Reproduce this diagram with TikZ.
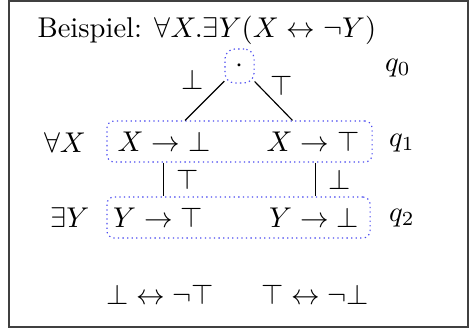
\documentclass[tikz,border=0pt]{standalone}
\usepackage{amssymb}
\usetikzlibrary{positioning}
\definecolor{qblue}{HTML}{4A4AF0}

\begin{document}
\begin{tikzpicture}[x=0.35pt,y=-0.35pt,
    levelbox/.style={draw=qblue,dash pattern=on 0.45pt off 1.15pt,rounded corners=2.5pt,minimum width=92.8pt,minimum height=14.35pt},
    entry/.style={minimum height=14.35pt,inner sep=1pt},
    plain/.style={inner sep=0pt}
  ]
    \useasboundingbox (0,0) rectangle (469,329);
    \draw[black!75] (9,1) rectangle (468,327);
    \node[plain,anchor=base west] (title) at (37,37.5) {Beispiel: $\forall X.\exists Y(X\leftrightarrow\neg Y)$};
    % Baumwurzel
    \node[levelbox,minimum width=10.2pt,minimum height=11.9pt,rounded corners=3.5pt] (root) at (239.5,66) {$\cdot$};
    \node[plain] (q0) at (398,68) {$q_0$};
    % erste Ebene
    \node[levelbox] (row1) at (239.5,141.5) {};
    \node[entry] (xb) at (164,141.5) {$X\rightarrow\bot$};
    \node[entry] (xt) at (313,141.5) {$X\rightarrow\top$};
    \node[plain] (qx) at (65,143) {$\forall X$};
    \node[plain] (q1) at (402,143) {$q_1$};
    % zweite Ebene
    \node[levelbox,minimum width=92.1pt] (row2) at (238.5,217.5) {};
    \node[entry] (yt) at (158,217.5) {$Y\rightarrow\top$};
    \node[entry] (yb) at (314,217.5) {$Y\rightarrow\bot$};
    \node[plain] (qy) at (70,218) {$\exists Y$};
    \node[plain] (q2) at (402,218) {$q_2$};
    % Ergebnisse
    \node[plain] (rb) at (160,295) {$\bot\leftrightarrow\neg\top$};
    \node[plain] (rt) at (315,295) {$\top\leftrightarrow\neg\bot$};
    \draw (root) -- (xb) node[plain,midway,shift={(-12,-21)}] {$\bot$};
    \draw (root) -- (xt) node[plain,midway,shift={(8,-15)}] {$\top$};
    \draw (xb.south -| 163.5,0) -- (yt.north -| 163.5,0) node[midway,right=1pt] {$\top$};
    \draw (xt.south -| 315.5,0) -- (yb.north -| 315.5,0) node[midway,right=1pt] {$\bot$};
  \end{tikzpicture}
\end{document}
